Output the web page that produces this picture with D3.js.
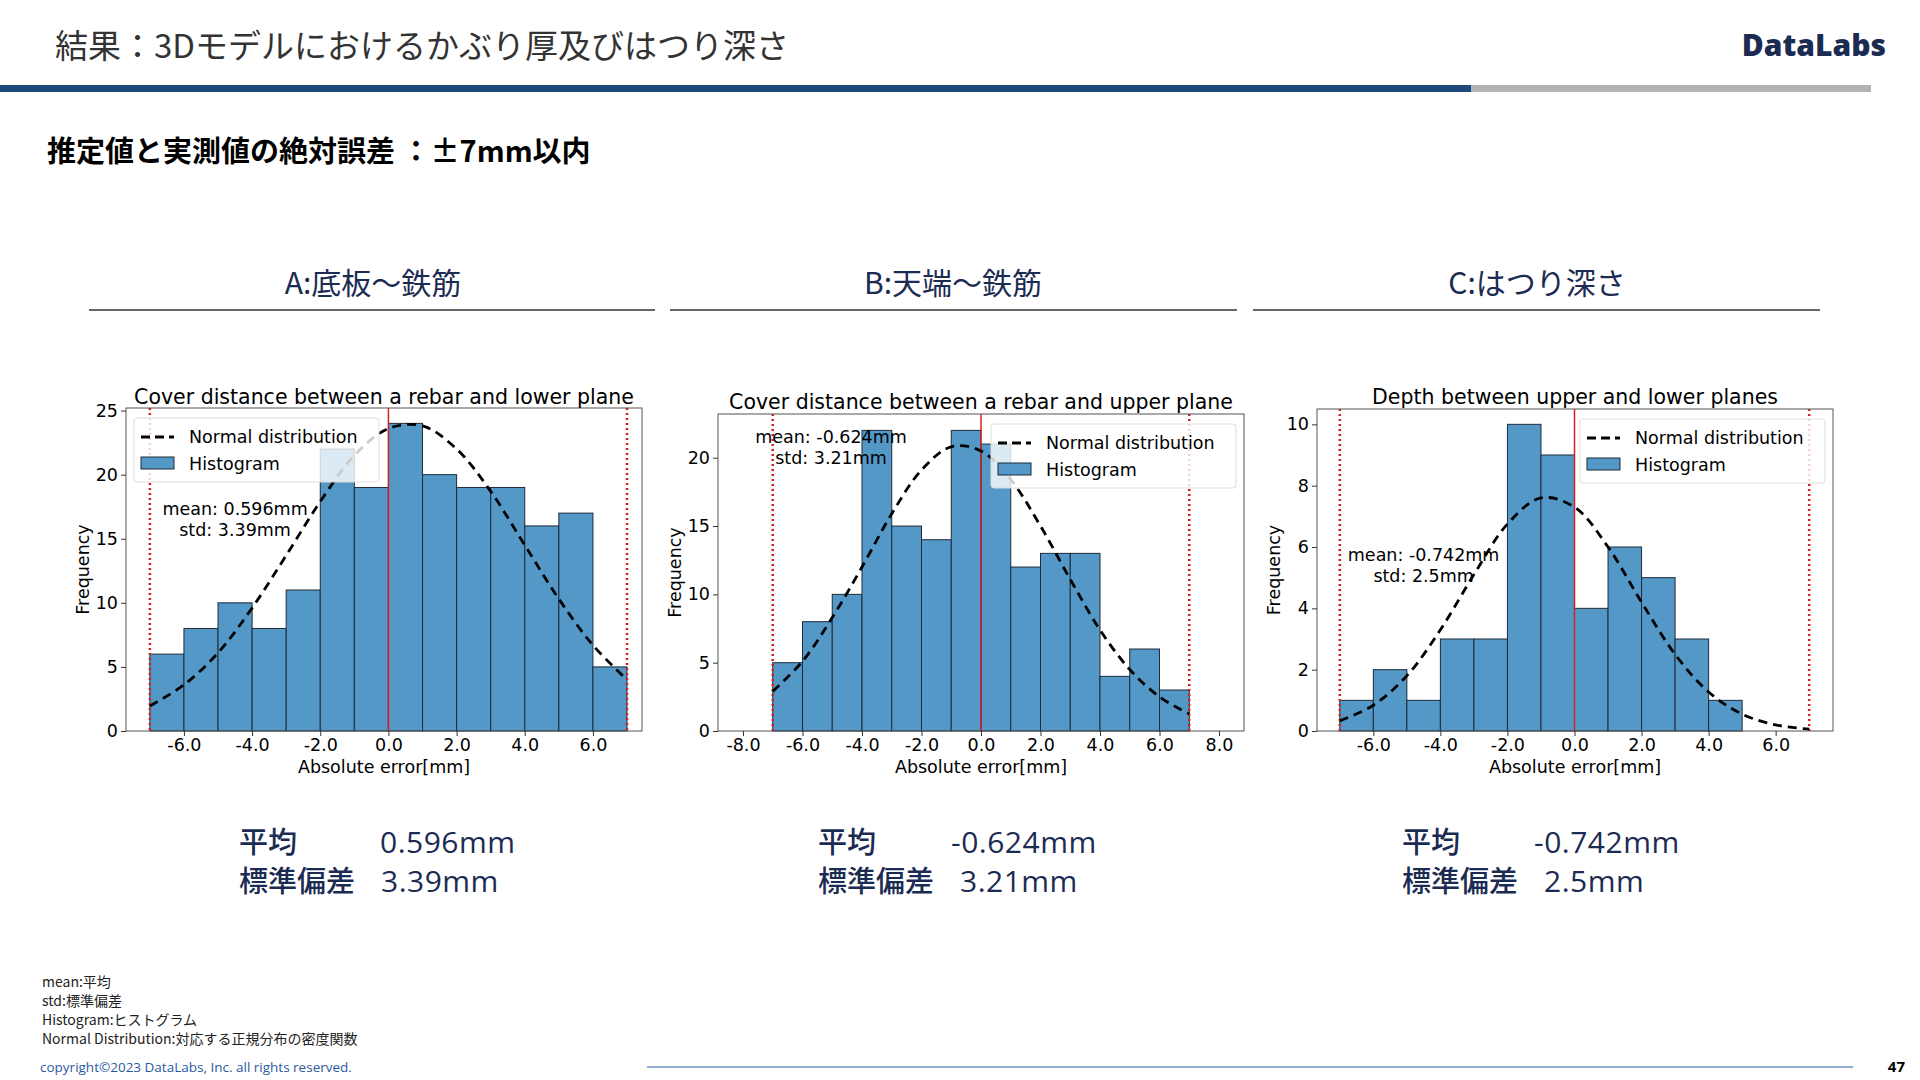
<!DOCTYPE html>
<html><head><meta charset="utf-8">
<script src="https://cdn.jsdelivr.net/npm/d3@7"></script>
<style>body{margin:0;background:#fff}svg{display:block}</style>
</head><body><svg id="c" width="1920" height="1080"></svg>
<script>
const binStarts = [-7,-6,-5,-4,-3,-2,-1,0,1,2,3,4,5,6];
const countsA = [6,8,10,8,11,22,19,24,20,19,19,16,17,5];
const countsB = [5,8,10,22,15,14,22,21,12,13,13,4,6,3];
const countsC = [1,2,1,3,3,10,9,4,6,5,3,1];
const curveX = [-7,-6,-5,-4,-3,-2,-1,0,1,2,3,4,5,6,7];
const curveA = [1.95,3.6,6.1,9.6,13.7,17.9,21.5,23.6,23.8,22.0,18.7,14.5,10.3,6.7,4.0];
const curveB = [2.9,5.1,8.3,12.0,15.9,19.1,20.8,20.5,18.4,15.0,11.1,7.4,4.5,2.5,1.25];
const curveC = [0.33,0.84,1.8,3.3,5.1,6.75,7.6,7.3,6.0,4.2,2.5,1.27,0.55,0.2,0.06];
const xTicksA = [-6,-4,-2,0,2,4,6];
const xTicksB = [-8,-6,-4,-2,0,2,4,6,8];
const yTicksA = [0,5,10,15,20,25];
const yTicksB = [0,5,10,15,20];
const yTicksC = [0,2,4,6,8,10];
const titles = ["Cover distance between a rebar and lower plane","Cover distance between a rebar and upper plane","Depth between upper and lower planes"];
const sections = ["A:底板～鉄筋","B:天端～鉄筋","C:はつり深さ"];
const stats = [["0.596mm","3.39mm"],["-0.624mm","3.21mm"],["-0.742mm","2.5mm"]];
const annots = [["mean: 0.596mm","std: 3.39mm"],["mean: -0.624mm","std: 3.21mm"],["mean: -0.742mm","std: 2.5mm"]];

const svg = d3.select("#c");
const JP = "'Noto Sans CJK JP','Noto Sans',sans-serif";
const navy = "#1b2b52";
svg.append("text").attr("x",55).attr("y",58).attr("font-family",JP).attr("font-size",33).attr("fill","#333").text("結果：3Dモデルにおけるかぶり厚及びはつり深さ");
svg.append("text").attr("x",1886).attr("y",56).attr("text-anchor","end").attr("font-family","'Open Sans',Roboto,sans-serif").attr("font-weight",800).attr("font-size",30).attr("fill",navy).text("DataLabs");
svg.append("rect").attr("x",0).attr("y",85).attr("width",1471).attr("height",7).attr("fill","#1d4a7a");
svg.append("rect").attr("x",1471).attr("y",85).attr("width",400).attr("height",7).attr("fill","#b3b3b3");
svg.append("text").attr("x",47).attr("y",162).attr("font-family",JP).attr("font-weight",700).attr("font-size",29).attr("fill","#000").text("推定値と実測値の絶対誤差 ：±7mm以内");

const secs = [{cx:373,l:89,r:655},{cx:953,l:670,r:1237},{cx:1537,l:1253,r:1820}];
secs.forEach((s,i)=>{
  svg.append("text").attr("x",s.cx).attr("y",294).attr("text-anchor","middle").attr("font-family",JP).attr("font-size",30).attr("fill",navy).text(sections[i]);
  svg.append("line").attr("x1",s.l).attr("x2",s.r).attr("y1",310).attr("y2",310).attr("stroke","#333").attr("stroke-width",1.5);
});

const panels = [
 {L:126,R:642,T:408,B:731,xd:[-7.70,7.44],yd:[0,25.2],counts:countsA,curve:curveA,xt:xTicksA,yt:yTicksA,leg:"left",ann:[-4.5,17.3],ty:404},
 {L:718,R:1244,T:414,B:731,xd:[-8.84,8.84],yd:[0,23.2],counts:countsB,curve:curveB,xt:xTicksB,yt:yTicksB,leg:"right",ann:[-5.04,21.5],ty:409},
 {L:1317,R:1833,T:409,B:731,xd:[-7.68,7.71],yd:[0,10.5],counts:countsC,curve:curveC,xt:xTicksA,yt:yTicksC,leg:"right",ann:[-4.5,5.75],ty:404}
];
const DV = "'DejaVu Sans',sans-serif";
panels.forEach((p,i)=>{
  const g = svg.append("g");
  const x = d3.scaleLinear().domain(p.xd).range([p.L,p.R]);
  const y = d3.scaleLinear().domain(p.yd).range([p.B,p.T]);
  g.selectAll("rect.bar").data(p.counts).join("rect")
    .attr("x",(d,j)=>x(binStarts[j])).attr("width",(d,j)=>x(binStarts[j]+1)-x(binStarts[j]))
    .attr("y",d=>y(d)).attr("height",d=>y(0)-y(d))
    .attr("fill","#5398c7").attr("stroke","#1f2a3a").attr("stroke-width",1);
  [-7,7].forEach(v=>g.append("line").attr("x1",x(v)).attr("x2",x(v)).attr("y1",p.T).attr("y2",p.B).attr("stroke","#d62020").attr("stroke-width",2.5).attr("stroke-dasharray","2,3"));
  g.append("line").attr("x1",x(0)).attr("x2",x(0)).attr("y1",p.T).attr("y2",p.B).attr("stroke","#d62020").attr("stroke-width",1.5);
  const line = d3.line().x((d,j)=>x(curveX[j])).y(d=>y(d)).curve(d3.curveCatmullRom);
  g.append("path").datum(p.curve).attr("d",line).attr("fill","none").attr("stroke","#000").attr("stroke-width",2.8).attr("stroke-dasharray","9,6");
  g.append("rect").attr("x",p.L).attr("y",p.T).attr("width",p.R-p.L).attr("height",p.B-p.T).attr("fill","none").attr("stroke","#555").attr("stroke-width",1);
  const xa = g.append("g").attr("transform",`translate(0,${p.B})`).call(d3.axisBottom(x).tickValues(p.xt).tickFormat(d3.format(".1f")).tickSizeOuter(0).tickSize(5));
  const ya = g.append("g").attr("transform",`translate(${p.L},0)`).call(d3.axisLeft(y).tickValues(p.yt).tickSizeOuter(0).tickSize(5));
  [xa,ya].forEach(a=>{a.select(".domain").remove();a.selectAll("text").attr("font-family",DV).attr("font-size",17.5).attr("fill","#000");a.selectAll("line").attr("stroke","#333");});
  xa.selectAll("text").text(d=>d3.format(".1f")(d).replace("−","-"));
  g.append("text").attr("x",(p.L+p.R)/2).attr("y",p.B+42).attr("text-anchor","middle").attr("font-family",DV).attr("font-size",17.5).text("Absolute error[mm]");
  g.append("text").attr("transform",`translate(${p.L-37},${(p.T+p.B)/2}) rotate(-90)`).attr("text-anchor","middle").attr("font-family",DV).attr("font-size",17.5).text("Frequency");
  g.append("text").attr("x",(p.L+p.R)/2).attr("y",p.ty).attr("text-anchor","middle").attr("font-family",DV).attr("font-size",20.5).text(titles[i]);
  annots[i].forEach((t,k)=>g.append("text").attr("x",x(p.ann[0])).attr("y",y(p.ann[1])+6+k*21).attr("text-anchor","middle").attr("font-family",DV).attr("font-size",17.5).text(t));
  const lw = 245, lh = 64;
  const lx = p.leg==="left" ? p.L+8 : p.R-8-lw, ly = p.T+10;
  const lg = g.append("g").attr("transform",`translate(${lx},${ly})`);
  lg.append("rect").attr("width",lw).attr("height",lh).attr("rx",3).attr("fill","rgba(255,255,255,0.8)").attr("stroke","#ddd");
  lg.append("line").attr("x1",7).attr("x2",40).attr("y1",19).attr("y2",19).attr("stroke","#000").attr("stroke-width",2.8).attr("stroke-dasharray","9,5");
  lg.append("text").attr("x",55).attr("y",25).attr("font-family",DV).attr("font-size",17.5).text("Normal distribution");
  lg.append("rect").attr("x",7).attr("y",39).attr("width",33).attr("height",12).attr("fill","#5398c7").attr("stroke","#1f2a3a");
  lg.append("text").attr("x",55).attr("y",52).attr("font-family",DV).attr("font-size",17.5).text("Histogram");
});

const sx = [[239,380],[818,951],[1402,1534]];
sx.forEach((s,i)=>{
  ["平均","標準偏差"].forEach((lab,k)=>{
    const yy = 853+k*39;
    svg.append("text").attr("x",s[0]).attr("y",yy).attr("font-family",JP).attr("font-weight",500).attr("font-size",29).attr("fill",navy).text(lab);
    svg.append("text").attr("x",k===0?s[1]:s[0]+142).attr("y",yy).attr("font-family","'Open Sans',sans-serif").attr("font-size",30).attr("letter-spacing",0.5).attr("fill",navy).text(stats[i][k]);
  });
});
const notes = ["mean:平均","std:標準偏差","Histogram:ヒストグラム","Normal Distribution:対応する正規分布の密度関数"];
notes.forEach((t,k)=>svg.append("text").attr("x",42).attr("y",987+k*19).attr("font-family",JP).attr("font-size",14).attr("fill","#222").text(t));
svg.append("text").attr("x",40).attr("y",1072).attr("font-family","'Open Sans',sans-serif").attr("font-size",13.5).attr("fill","#2a5aa0").text("copyright©2023 DataLabs, Inc. all rights reserved.");
svg.append("line").attr("x1",647).attr("x2",1853).attr("y1",1067).attr("y2",1067).attr("stroke","#2a5aa0").attr("stroke-width",1.2);
svg.append("text").attr("x",1905).attr("y",1072).attr("text-anchor","end").attr("font-family","'Open Sans',sans-serif").attr("font-weight",700).attr("font-size",15).text("47");
</script></body></html>
